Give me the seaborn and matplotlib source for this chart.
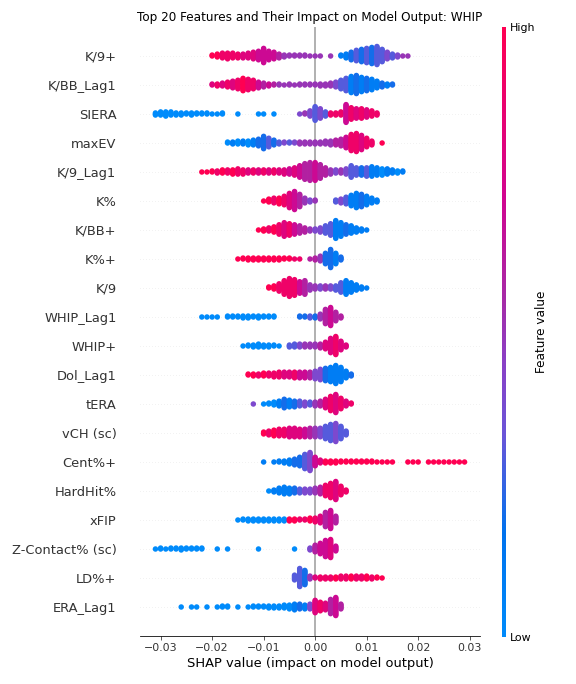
import numpy as np
import pandas as pd
import matplotlib
matplotlib.use("Agg")
import matplotlib.pyplot as plt
import seaborn as sns
from matplotlib.colors import LinearSegmentedColormap

# Features, top to bottom
features = ["K/9+", "K/BB_Lag1", "SIERA", "maxEV", "K/9_Lag1", "K%", "K/BB+", "K%+",
            "K/9", "WHIP_Lag1", "WHIP+", "Dol_Lag1", "tERA", "vCH (sc)", "Cent%+",
            "HardHit%", "xFIP", "Z-Contact% (sc)", "LD%+", "ERA_Lag1"]

# SHAP values read off the picture as counts of points per 0.001 bin,
# starting at bin_start (in units of 0.001)
bin_start = [-20, -20, -31, -17, -22, -10, -11, -15, -9, -22,
             -14, -13, -12, -10, -10, -9, -15, -31, -4, -26]

bin_counts = [
    [2, 4, 6, 7, 6, 5, 5, 6, 8, 10, 16, 10, 8, 5, 3, 2, 2, 2, 2, 1, 1, 1, 0, 1, 0, 2, 5, 9, 12, 14, 16, 18, 20, 14, 8, 5, 3, 1, 1],
    [2, 3, 4, 6, 8, 10, 14, 12, 10, 7, 5, 3, 2, 2, 1, 2, 1, 2, 2, 2, 2, 3, 3, 4, 6, 10, 14, 18, 20, 16, 14, 12, 8, 5, 3, 2],
    [3, 4, 5, 4, 3, 3, 2, 3, 2, 2, 2, 1, 1, 2, 0, 0, 1, 0, 0, 0, 1, 1, 0, 1, 0, 0, 0, 0, 1, 2, 6, 14, 10, 5, 3, 3, 4, 18, 12, 10, 10, 8, 6, 3],
    [2, 3, 4, 4, 5, 6, 8, 14, 10, 6, 3, 2, 2, 2, 3, 3, 3, 3, 3, 4, 5, 6, 8, 12, 18, 20, 16, 10, 5, 0, 1],
    [1, 1, 2, 3, 4, 4, 5, 6, 5, 4, 4, 4, 4, 4, 4, 4, 5, 6, 8, 12, 16, 18, 18, 14, 8, 5, 4, 4, 6, 12, 8, 8, 9, 10, 8, 7, 6, 4, 3, 2],
    [1, 4, 6, 7, 10, 16, 20, 14, 6, 3, 2, 0, 0, 0, 3, 5, 8, 12, 16, 14, 10, 6, 3],
    [1, 3, 4, 6, 10, 14, 12, 10, 8, 5, 3, 3, 5, 8, 12, 18, 14, 10, 8, 5, 3, 1],
    [1, 2, 3, 3, 3, 3, 3, 3, 3, 2, 2, 1, 1, 0, 1, 3, 6, 12, 20, 12, 4],
    [2, 4, 8, 14, 18, 16, 12, 14, 6, 4, 4, 4, 4, 5, 10, 14, 10, 6, 3, 1],
    [1, 1, 1, 1, 0, 2, 2, 2, 3, 3, 2, 3, 2, 2, 2, 0, 0, 0, 0, 2, 2, 3, 3, 6, 16, 20, 10, 3],
    [1, 2, 3, 4, 3, 3, 2, 1, 0, 3, 4, 4, 4, 4, 4, 5, 8, 16, 20, 10, 3],
    [2, 3, 3, 4, 4, 5, 6, 6, 6, 7, 7, 7, 7, 9, 12, 14, 16, 20, 16, 8, 3],
    [1, 0, 1, 2, 4, 6, 10, 8, 7, 6, 5, 4, 5, 6, 10, 16, 20, 12, 6, 2],
    [3, 5, 7, 8, 8, 10, 10, 9, 9, 10, 10, 10, 14, 18, 20, 14, 5],
    [1, 0, 1, 2, 3, 5, 7, 10, 16, 20, 10, 4, 3, 3, 3, 2, 2, 2, 2, 2, 2, 2, 1, 1, 1, 1, 0, 0, 1, 1, 1, 0, 1, 1, 1, 1, 1, 1, 1, 1],
    [1, 3, 6, 8, 7, 6, 5, 5, 5, 6, 8, 12, 16, 20, 10, 3],
    [1, 2, 3, 3, 3, 3, 3, 3, 3, 3, 3, 3, 2, 2, 4, 5, 8, 16, 20, 8],
    [1, 2, 1, 2, 2, 3, 2, 2, 2, 2, 0, 0, 1, 0, 1, 0, 0, 0, 0, 0, 1, 0, 0, 0, 0, 0, 0, 1, 0, 0, 3, 8, 12, 18, 20, 6],
    [6, 20, 16, 4, 2, 3, 3, 3, 3, 4, 4, 4, 4, 4, 4, 3, 2, 1],
    [1, 0, 1, 1, 0, 1, 0, 1, 2, 2, 0, 1, 0, 1, 2, 2, 2, 3, 3, 3, 4, 5, 7, 6, 5, 6, 14, 10, 8, 16, 20, 6],
]

# Mean feature value per bin, in tenths (0 = low / blue, 10 = high / red)
bin_values = [
    [10, 10, 9, 9, 9, 9, 8, 8, 8, 7, 7, 7, 7, 6, 5, 5, 5, 5, 5, 5, 5, 5, 5, 5, 4, 1, 1, 2, 3, 2, 3, 2, 3, 3, 4, 3, 4, 5, 5],
    [8, 9, 8, 9, 8, 9, 10, 9, 9, 7, 6, 7, 6, 5, 5, 5, 5, 5, 5, 5, 5, 5, 5, 5, 4, 3, 3, 1, 2, 1, 2, 1, 1, 2, 1, 2],
    [0] * 28 + [4, 5, 4, 3, 4, 3, 9, 9, 9, 7, 9, 8, 9, 8, 9, 9],
    [0, 1, 0, 1, 0, 1, 2, 2, 3, 2, 3, 4, 3, 4, 5, 5, 5, 5, 5, 5, 5, 6, 6, 7, 9, 9, 8, 9, 9, 9, 10],
    [10, 10, 10, 9, 10, 9, 10, 9, 9, 8, 9, 8, 9, 8, 9, 8, 8, 7, 8, 7, 6, 6, 7, 6, 6, 5, 4, 5, 4, 3, 3, 2, 3, 1, 1, 0, 1, 1, 0, 1],
    [10, 10, 9, 10, 9, 8, 7, 6, 5, 4, 5, 4, 4, 4, 3, 4, 3, 1, 1, 2, 1, 1, 1],
    [10, 10, 9, 10, 9, 8, 9, 7, 6, 6, 5, 4, 4, 3, 3, 1, 1, 2, 1, 1, 1, 1],
    [10] * 11 + [9, 9, 9, 6, 6, 5, 2, 2, 1, 2],
    [10, 10, 9, 9, 9, 9, 7, 6, 5, 5, 4, 5, 4, 3, 3, 1, 1, 1, 1, 1],
    [0] * 19 + [2, 2, 3, 2, 5, 6, 7, 6, 6],
    [0] * 8 + [3, 3, 3, 4, 5, 5, 5, 6, 8, 8, 9, 8, 8],
    [10, 10, 9, 10, 9, 9, 9, 8, 8, 9, 7, 7, 6, 4, 4, 2, 1, 1, 1, 1, 2],
    [4, 0, 0, 0, 0, 1, 2, 1, 2, 3, 4, 3, 5, 6, 8, 9, 8, 9, 8, 9],
    [10, 9, 10, 9, 9, 8, 8, 8, 7, 6, 5, 4, 3, 3, 4, 3, 3],
    [1, 0, 1, 1, 1, 1, 2, 2, 3, 4, 7, 8] + [10] * 28,
    [0, 1, 1, 1, 1, 2, 3, 4, 4, 5, 6, 9, 9, 8, 9, 9],
    [0] * 10 + [10, 10, 9, 9, 10, 9, 8, 6, 7, 6],
    [0] * 30 + [4, 6, 7, 7, 8, 7],
    [3, 3, 2, 5, 8, 9, 9, 9, 10, 9, 9, 10, 9, 9, 10, 9, 10, 10],
    [0] * 22 + [1, 2, 1, 4, 8, 9, 8, 6, 7, 6],
]

axis_color = "#333333"
row_height = 0.4

# red-blue colour map like the one shap uses
shap_cmap = LinearSegmentedColormap.from_list(
    "shap_red_blue",
    [(0.0, "#008bfb"), (0.17, "#0072ee"), (0.33, "#6a55d8"), (0.45, "#8a40c6"),
     (0.55, "#a52ba8"), (0.72, "#d10590"), (1.0, "#ff0052")])

# Expand the bins into points and stack them like a beeswarm
frames = []
for i, name in enumerate(features):
    pos = len(features) - 1 - i
    xs, offs, vals = [], [], []
    for j, (c, v) in enumerate(zip(bin_counts[i], bin_values[i])):
        for layer in range(c):
            xs.append((bin_start[i] + j) / 1000)
            offs.append(np.ceil(layer / 2) * ((layer % 2) * 2 - 1))
            vals.append(v / 10)
    offs = np.array(offs, dtype=float)
    offs *= 0.9 * (row_height / np.max(offs + 1))
    frames.append(pd.DataFrame({"shap": xs, "y": pos + offs, "value": vals, "feature": name}))
df = pd.concat(frames, ignore_index=True)

fig = plt.figure(figsize=(8, 9.5), dpi=72)
ax = fig.add_axes([140 / 576, 48 / 684, 340 / 576, 609 / 684])

for pos in range(len(features)):
    ax.axhline(y=pos, color="#cccccc", lw=0.5, dashes=(1, 5), zorder=-1)
ax.axvline(x=0, color="#999999", zorder=-1)

sns.scatterplot(data=df, x="shap", y="y", hue="value", palette=shap_cmap, hue_norm=(0, 1),
                s=30, linewidth=0, alpha=1, legend=False, ax=ax, rasterized=True)

ax.set_ylim(-1, len(features))
ax.set_yticks(range(len(features)))
ax.set_yticklabels(features[::-1], fontsize=13)
ax.xaxis.set_ticks_position("bottom")
ax.yaxis.set_ticks_position("none")
for side in ["right", "top", "left"]:
    ax.spines[side].set_visible(False)
ax.tick_params(color=axis_color, labelcolor=axis_color)
ax.tick_params("y", length=20, width=0.5, which="major")
ax.tick_params("x", labelsize=11)
ax.set_xlabel("SHAP value (impact on model output)", fontsize=13)
ax.set_ylabel("")
ax.set_title("Top 20 Features and Their Impact on Model Output: WHIP", fontsize=12)

# Colour bar
sm = plt.cm.ScalarMappable(cmap=shap_cmap, norm=plt.Normalize(0, 1))
cax = fig.add_axes([501.5 / 576, 47 / 684, 4.5 / 576, 610 / 684])
cb = fig.colorbar(sm, cax=cax, ticks=[0, 1])
cb.set_ticklabels(["Low", "High"])
cb.set_label("Feature value", size=12, labelpad=0)
cb.ax.tick_params(labelsize=11, length=0)
cb.outline.set_visible(False)

fig.savefig("out.png", dpi=72)
